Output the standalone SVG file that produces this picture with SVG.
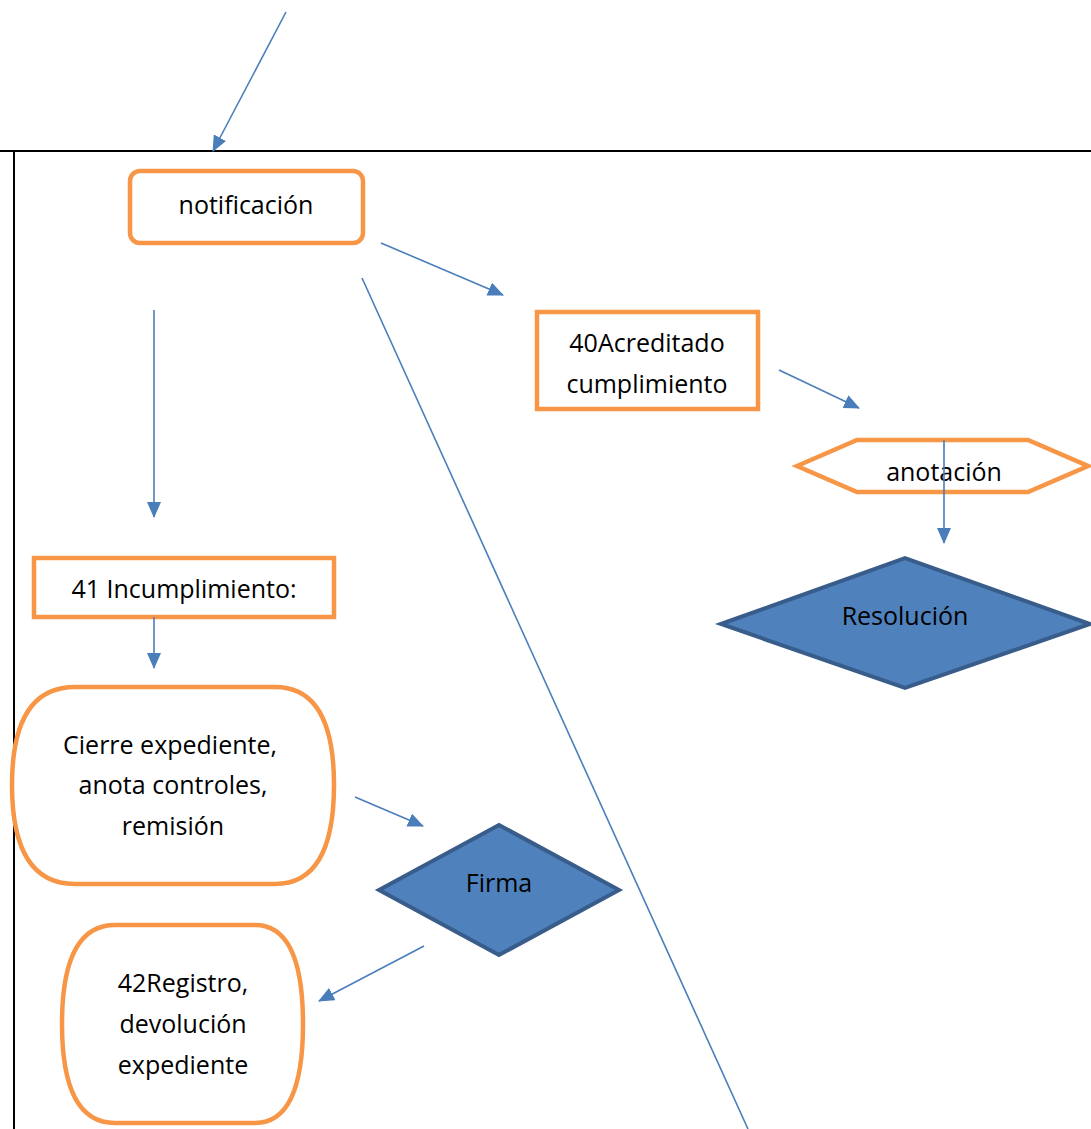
<svg xmlns="http://www.w3.org/2000/svg" width="1091" height="1129" viewBox="0 0 1091 1129">
<style>
.frame{stroke:#000;stroke-width:2;fill:none}
.orange{fill:#fff;stroke:#F79646;stroke-width:4.5}
.blue{fill:#4F81BD;stroke:#385D8A;stroke-width:4}
.conn{stroke:#4A7EBB;stroke-width:1.6;fill:none}
text{font-family:"Open Sans","Liberation Sans",Arial,sans-serif;font-size:25px;fill:#000;text-anchor:middle}
</style>
<defs>
<marker id="ah" markerUnits="userSpaceOnUse" markerWidth="16" markerHeight="14" refX="15" refY="7" orient="auto">
<path d="M0,0 L16,7 L0,14 Z" fill="#4A7EBB"/>
</marker>
</defs>
<rect width="1091" height="1129" fill="#fff"/>
<g id="frame">
<line class="frame" x1="0" y1="151" x2="1091" y2="151"/>
<line class="frame" x1="14" y1="151" x2="14" y2="1129"/>
</g>
<g id="notificacion">
<rect class="orange" x="130" y="171" width="233" height="72" rx="10"/>
<text x="246" y="214">notificación</text>
</g>
<g id="acreditado">
<rect class="orange" x="537" y="312" width="221" height="97"/>
<text x="647" y="352">40Acreditado</text>
<text x="647" y="393">cumplimiento</text>
</g>
<g id="anotacion">
<polygon class="orange" points="797,466 857,440 1028,440 1088,466 1028,492 857,492"/>
<text x="944" y="481">anotación</text>
</g>
<g id="resolucion">
<polygon class="blue" points="721,624 905,558 1090,624 905,688"/>
<text x="905" y="625">Resolución</text>
</g>
<g id="incumplimiento">
<rect class="orange" x="34" y="558" width="300" height="59"/>
<text x="184" y="598">41 Incumplimiento:</text>
</g>
<g id="cierre">
<path class="orange" d="M75,687 L275,687 Q334,687 334,785 Q334,884 275,884 L75,884 Q12,884 12,785 Q12,687 75,687 Z"/>
<text x="170" y="754">Cierre expediente,</text>
<text x="173" y="794">anota controles,</text>
<text x="173" y="835">remisión</text>
</g>
<g id="firma">
<polygon class="blue" points="379,890 499,825 619,890 499,955"/>
<text x="499" y="892">Firma</text>
</g>
<g id="registro">
<path class="orange" d="M115,925 L255,925 Q303,925 303,1024 Q303,1123 255,1123 L115,1123 Q62,1123 62,1024 Q62,925 115,925 Z"/>
<text x="183" y="992">42Registro,</text>
<text x="183" y="1033">devolución</text>
<text x="183" y="1074">expediente</text>
</g>
<g id="connectors">
<line class="conn" x1="286" y1="12" x2="213" y2="151" marker-end="url(#ah)"/>
<line class="conn" x1="381" y1="243" x2="503" y2="295" marker-end="url(#ah)"/>
<line class="conn" x1="154" y1="310" x2="154" y2="517" marker-end="url(#ah)"/>
<line class="conn" x1="362" y1="278" x2="748" y2="1129"/>
<line class="conn" x1="779" y1="370" x2="859" y2="408" marker-end="url(#ah)"/>
<line class="conn" x1="944" y1="440" x2="944" y2="543" marker-end="url(#ah)"/>
<line class="conn" x1="154" y1="617" x2="154" y2="668" marker-end="url(#ah)"/>
<line class="conn" x1="355" y1="797" x2="423" y2="826" marker-end="url(#ah)"/>
<line class="conn" x1="424" y1="946" x2="319" y2="1001" marker-end="url(#ah)"/>
</g>
</svg>
